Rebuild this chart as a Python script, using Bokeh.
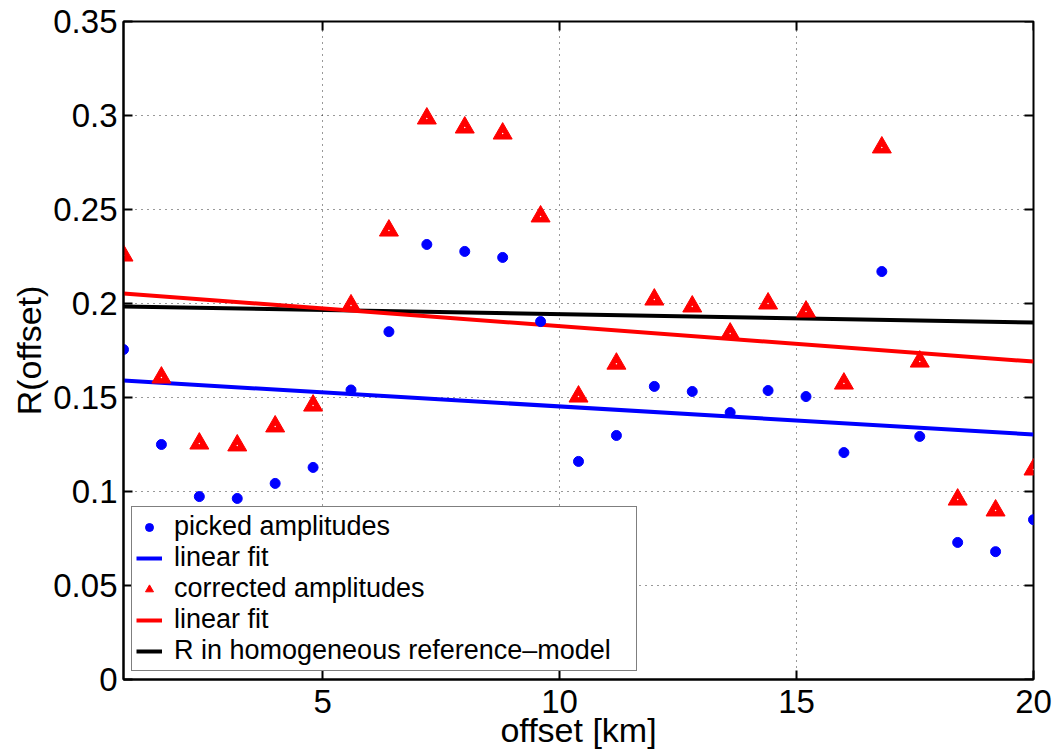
from bokeh.plotting import figure
from bokeh.models import FixedTicker, Range1d, Legend, LegendItem, ColumnDataSource
from bokeh.embed import file_html
from bokeh.resources import INLINE

# ---- data ----
offset_km = [0.8, 1.6, 2.4, 3.2, 4.0, 4.8, 5.6, 6.4, 7.2, 8.0, 8.8, 9.6, 10.4,
             11.2, 12.0, 12.8, 13.6, 14.4, 15.2, 16.0, 16.8, 17.6, 18.4, 19.2, 20.0]
picked = [0.1755, 0.125, 0.0973, 0.0963, 0.1043, 0.1128, 0.154, 0.185, 0.2314,
          0.2277, 0.2245, 0.1904, 0.116, 0.1298, 0.1559, 0.1532, 0.142, 0.1537,
          0.1505, 0.1207, 0.217, 0.1293, 0.0729, 0.068, 0.085]
corrected = [0.2255, 0.1606, 0.1255, 0.1245, 0.1346, 0.1457, 0.199, 0.2388,
             0.2984, 0.2936, 0.2904, 0.2463, 0.1505, 0.168, 0.2021, 0.1984,
             0.184, 0.2, 0.1957, 0.1574, 0.283, 0.1691, 0.0957, 0.0899, 0.1117]
fit_x = [0.8, 20.0]
fit_picked = [0.159, 0.1303]
fit_corrected = [0.2053, 0.1691]
ref_model = [0.1984, 0.1899]

x_ticks = [5, 10, 15, 20]
x_tick_labels = ["5", "10", "15", "20"]
y_ticks = [0, 0.05, 0.1, 0.15, 0.2, 0.25, 0.3, 0.35]
y_tick_labels = ["0", "0.05", "0.1", "0.15", "0.2", "0.25", "0.3", "0.35"]

FONT = "Liberation Sans"
X0, X1, Y0, Y1 = 0.8, 20.0, 0.0, 0.35

p = figure(width=1055, height=753, output_backend="svg", toolbar_location=None,
           x_range=Range1d(X0, X1), y_range=Range1d(Y0, Y1),
           min_border_left=123, min_border_top=21, min_border_right=22,
           min_border_bottom=74)
p.outline_line_color = "black"
p.outline_line_width = 2
p.background_fill_color = "white"
p.border_fill_color = "white"

# grid
for g in (p.xgrid, p.ygrid):
    g.grid_line_color = "black"
    g.grid_line_dash = "1 5"
    g.grid_line_width = 1
    g.grid_line_alpha = 0.8
p.xgrid.ticker = FixedTicker(ticks=x_ticks)
p.ygrid.ticker = FixedTicker(ticks=y_ticks)

for ax, ticks, labels in ((p.xaxis[0], x_ticks, x_tick_labels),
                          (p.yaxis[0], y_ticks, y_tick_labels)):
    ax.ticker = FixedTicker(ticks=ticks)
    ax.major_label_overrides = {t: l for t, l in zip(ticks, labels)}
    ax.minor_tick_line_color = None
    ax.major_tick_in = 9
    ax.major_tick_out = 0
    ax.major_tick_line_width = 2
    ax.axis_line_width = 2
    ax.axis_line_color = "black"
    ax.major_label_text_font = FONT
    ax.major_label_text_color = "black"
    ax.major_label_text_font_size = "33px"
    ax.axis_label_text_font = FONT
    ax.axis_label_text_font_size = "34px"
    ax.axis_label_text_font_style = "normal"
    ax.axis_label_text_color = "black"

p.xaxis[0].major_label_standoff = 10
p.yaxis[0].major_label_standoff = 6
p.xaxis[0].axis_label = "offset [km]"
p.yaxis[0].axis_label = "R(offset)"
p.xaxis[0].axis_label_standoff = -5
p.yaxis[0].axis_label_standoff = 2

# inward ticks on the top and right edges of the box (MATLAB "box on")
tick_len_y = 9 / 1880.0
tick_len_x = 9 / 47.4
p.segment(x0=x_ticks, y0=[Y1] * len(x_ticks), x1=x_ticks,
          y1=[Y1 - tick_len_y] * len(x_ticks), line_color="black", line_width=2)
p.segment(x0=[X1] * len(y_ticks), y0=y_ticks, x1=[X1 - tick_len_x] * len(y_ticks),
          y1=y_ticks, line_color="black", line_width=2)

src = ColumnDataSource(dict(x=offset_km, picked=picked, corrected=corrected))
fsrc = ColumnDataSource(dict(x=fit_x, bp=fit_picked, rc=fit_corrected, ref=ref_model))

r_ref = p.line("x", "ref", source=fsrc, line_color="black", line_width=4)
r_fitr = p.line("x", "rc", source=fsrc, line_color="red", line_width=4)
r_fitb = p.line("x", "bp", source=fsrc, line_color="blue", line_width=4)
r_tri = p.scatter("x", "corrected", source=src, marker="triangle", size=19,
                  fill_color="red", line_color="red")
p.scatter("x", "corrected", source=src, marker="dot", size=6, line_color="white",
          fill_color="white")
r_dot = p.scatter("x", "picked", source=src, marker="circle", size=10,
                  fill_color="blue", line_color="blue")

legend = Legend(items=[
    LegendItem(label="picked amplitudes", renderers=[r_dot]),
    LegendItem(label="linear fit", renderers=[r_fitb]),
    LegendItem(label="corrected amplitudes", renderers=[r_tri]),
    LegendItem(label="linear fit", renderers=[r_fitr]),
    LegendItem(label="R in homogeneous reference\u2013model", renderers=[r_ref]),
], location="bottom_left")
legend.label_text_font = FONT
legend.label_text_font_size = "27px"
legend.label_text_color = "black"
legend.label_height = 20
legend.label_width = 458
legend.glyph_height = 20
legend.glyph_width = 26
legend.spacing = -5
legend.padding = 4
legend.margin = 8
legend.label_standoff = 12
legend.border_line_color = "black"
legend.border_line_width = 1.5
legend.background_fill_color = "white"
legend.background_fill_alpha = 1
p.add_layout(legend)

open("out.html", "w").write(file_html(p, INLINE))
